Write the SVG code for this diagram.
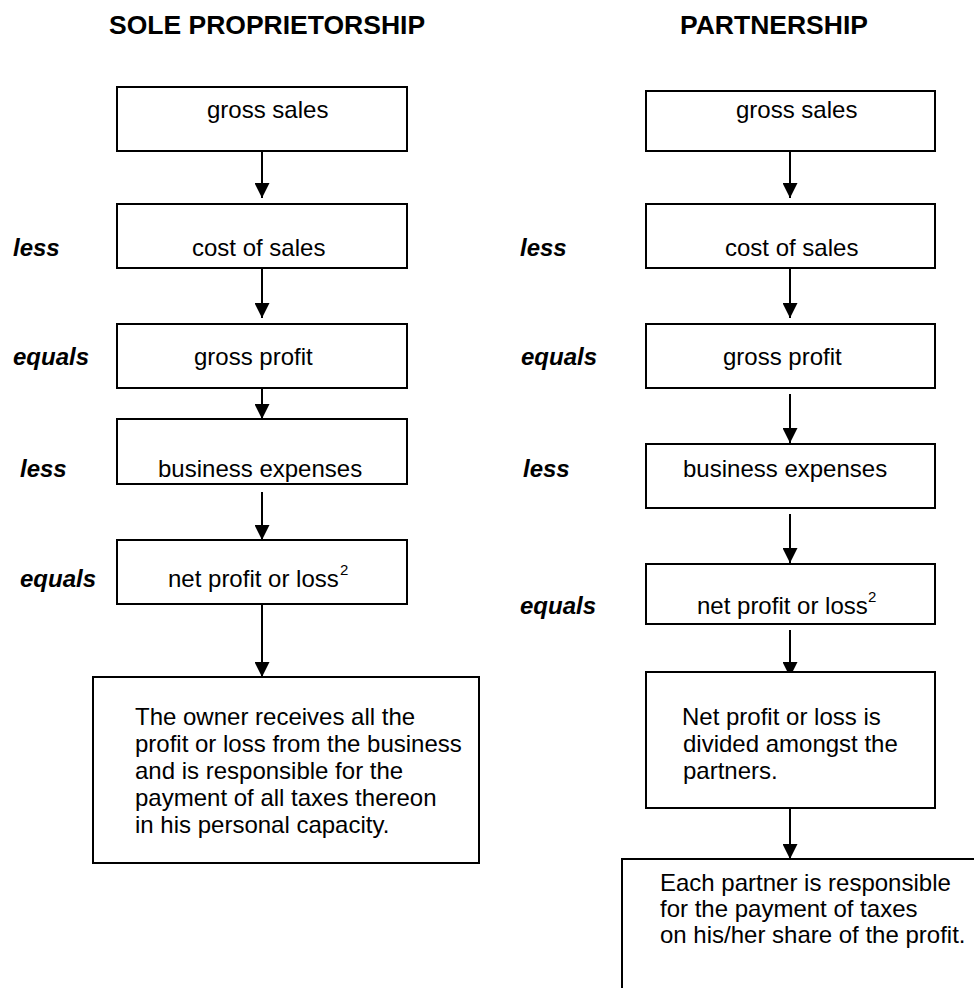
<svg xmlns="http://www.w3.org/2000/svg" width="974" height="988" viewBox="0 0 974 988">
<style>
.box{fill:#fff;stroke:#000;stroke-width:2}
.t{font-family:"Liberation Sans",Arial,sans-serif;font-size:24px;fill:#000}
.h{font-family:"Liberation Sans",Arial,sans-serif;font-size:26.5px;font-weight:bold;fill:#000}
.op{font-family:"Liberation Sans",Arial,sans-serif;font-size:24px;font-weight:bold;font-style:italic;fill:#000}
.sup{font-family:"Liberation Sans",Arial,sans-serif;font-size:15px;fill:#000}
.c{stroke:#000;stroke-width:2;fill:none;marker-end:url(#ah)}
</style>
<defs>
<marker id="ah" markerWidth="15" markerHeight="15" refX="15" refY="7.5" orient="auto" markerUnits="userSpaceOnUse">
<path d="M0,0 L15,7.5 L0,15 z" fill="#000"/>
</marker>
</defs>
<rect width="974" height="988" fill="#fff"/>
<text class="h" x="109" y="34">SOLE PROPRIETORSHIP</text>
<text class="h" x="680" y="34">PARTNERSHIP</text>
<g id="labels">
<text class="op" x="13" y="256">less</text>
<text class="op" x="13" y="365">equals</text>
<text class="op" x="20" y="477">less</text>
<text class="op" x="20" y="587">equals</text>
<text class="op" x="520" y="256">less</text>
<text class="op" x="521" y="365">equals</text>
<text class="op" x="523" y="477">less</text>
<text class="op" x="520" y="614">equals</text>
</g>
<g id="connectors">
<line class="c" x1="262" y1="151" x2="262" y2="198"/>
<line class="c" x1="262" y1="268" x2="262" y2="318"/>
<line class="c" x1="262" y1="388" x2="262" y2="419"/>
<line class="c" x1="262" y1="492" x2="262" y2="540"/>
<line class="c" x1="262" y1="597" x2="262" y2="677"/>
<line class="c" x1="790" y1="151" x2="790" y2="198"/>
<line class="c" x1="790" y1="268" x2="790" y2="318"/>
<line class="c" x1="790" y1="394" x2="790" y2="443"/>
<line class="c" x1="790" y1="514" x2="790" y2="563"/>
<line class="c" x1="790" y1="630" x2="790" y2="677"/>
<line class="c" x1="790" y1="808" x2="790" y2="859"/>
</g>
<g id="sp-gross-sales"><rect class="box" x="117" y="87" width="290" height="64"/><text class="t" x="207" y="118">gross sales</text></g>
<g id="sp-cost-of-sales"><rect class="box" x="117" y="204" width="290" height="64"/><text class="t" x="192" y="256">cost of sales</text></g>
<g id="sp-gross-profit"><rect class="box" x="117" y="324" width="290" height="64"/><text class="t" x="194" y="365">gross profit</text></g>
<g id="sp-business-expenses"><rect class="box" x="117" y="419" width="290" height="65"/><text class="t" x="158" y="477">business expenses</text></g>
<g id="sp-net-profit"><rect class="box" x="117" y="540" width="290" height="64"/><text class="t" x="168" y="587">net profit or loss</text><text class="sup" x="340" y="575">2</text></g>
<g id="sp-owner"><rect class="box" x="93" y="677" width="386" height="186"/>
<text class="t" x="135" y="725">The owner receives all the</text>
<text class="t" x="135" y="752">profit or loss from the business</text>
<text class="t" x="135" y="779">and is responsible for the</text>
<text class="t" x="135" y="806">payment of all taxes thereon</text>
<text class="t" x="135" y="833">in his personal capacity.</text>
</g>
<g id="p-gross-sales"><rect class="box" x="646" y="91" width="289" height="60"/><text class="t" x="736" y="118">gross sales</text></g>
<g id="p-cost-of-sales"><rect class="box" x="646" y="204" width="289" height="64"/><text class="t" x="725" y="256">cost of sales</text></g>
<g id="p-gross-profit"><rect class="box" x="646" y="324" width="289" height="64"/><text class="t" x="723" y="365">gross profit</text></g>
<g id="p-business-expenses"><rect class="box" x="646" y="444" width="289" height="64"/><text class="t" x="683" y="477">business expenses</text></g>
<g id="p-net-profit"><rect class="box" x="646" y="564" width="289" height="60"/><text class="t" x="697" y="614">net profit or loss</text><text class="sup" x="868" y="602">2</text></g>
<g id="p-divided"><rect class="box" x="646" y="672" width="289" height="136"/>
<text class="t" x="682" y="725">Net profit or loss is</text>
<text class="t" x="683" y="752">divided amongst the</text>
<text class="t" x="683" y="779">partners.</text>
</g>
<g id="p-each-partner"><rect class="box" x="622" y="859" width="380" height="160"/>
<text class="t" x="660" y="891">Each partner is responsible</text>
<text class="t" x="660" y="917">for the payment of taxes</text>
<text class="t" x="660" y="943">on his/her share of the profit.</text>
</g>
</svg>
